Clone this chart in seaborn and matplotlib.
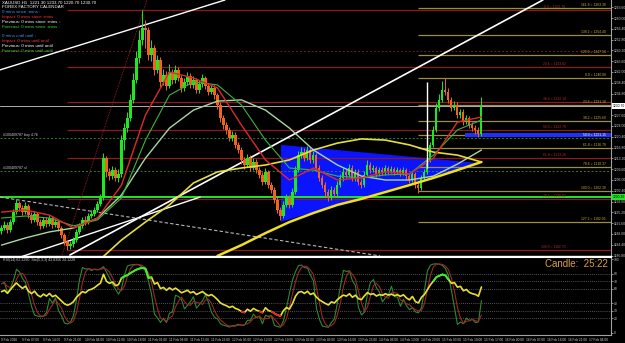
import numpy as np
import pandas as pd
import matplotlib
matplotlib.use("Agg")
import matplotlib.pyplot as plt
import seaborn as sns
from matplotlib.patches import Polygon, Rectangle

# ---------------- data ----------------
symbol = "XAUUSD,H1"
first_open = 1189.0
close = [1190.0,1191.0,1189.3,1192.0,1195.3,1198.3,1196.7,1195.3,1197.3,1194.3,
         1192.7,1194.7,1192.0,1190.7,1192.7,1191.3,1193.3,1191.0,1192.0,1190.0,
         1187.7,1185.3,1184.0,1184.7,1186.0,1188.7,1190.7,1192.7,1192.0,1194.0,
         1194.7,1196.0,1198.0,1200.0,1213.3,1208.7,1207.3,1209.3,1206.7,1208.0,
         1219.3,1223.3,1226.7,1232.7,1239.3,1246.7,1252.7,1256.7,1256.0,1247.7,
         1250.0,1242.7,1246.0,1238.7,1241.0,1237.3,1242.0,1239.3,1242.7,1240.0,
         1236.7,1238.7,1240.7,1237.7,1239.3,1236.0,1238.0,1240.0,1237.3,1235.3,
         1236.7,1234.3,1231.0,1226.7,1224.3,1222.7,1220.0,1221.0,1217.7,1216.0,
         1212.7,1211.0,1213.3,1210.0,1212.0,1209.3,1207.7,1205.3,1208.7,1204.3,
         1202.7,1199.3,1196.0,1194.0,1197.7,1200.0,1197.7,1202.0,1209.3,1214.3,
         1215.3,1213.3,1216.0,1212.7,1214.3,1210.0,1206.7,1204.3,1202.0,1200.0,
         1202.7,1201.3,1204.3,1206.7,1208.7,1207.7,1210.0,1206.7,1208.7,1205.3,
         1204.3,1207.7,1211.0,1209.3,1210.0,1208.0,1209.3,1208.7,1210.0,1209.0,
         1209.7,1208.7,1209.3,1208.3,1209.3,1207.3,1206.0,1208.0,1204.3,1203.3,
         1206.7,1208.7,1212.7,1217.7,1222.7,1230.0,1232.7,1236.0,1235.3,1232.7,
         1230.0,1231.0,1227.7,1228.7,1225.3,1226.7,1224.3,1223.3,1222.7,1221.3,
         1230.7]
high = [1191.0,1192.3,1192.0,1193.0,1196.3,1199.7,1199.0,1197.7,1198.7,1198.0,
        1195.3,1195.7,1195.3,1193.0,1193.7,1193.7,1194.3,1194.0,1193.0,1192.7,
        1190.7,1188.3,1186.0,1185.7,1187.0,1189.7,1191.7,1193.7,1194.0,1195.0,
        1196.0,1197.0,1199.0,1201.3,1215.0,1214.0,1210.0,1210.7,1210.3,1209.7,
        1221.0,1225.0,1228.7,1234.7,1241.7,1249.0,1256.0,1262.7,1259.3,1257.0,
        1252.7,1251.0,1247.7,1247.0,1243.0,1242.3,1244.7,1243.0,1244.3,1243.7,
        1241.0,1240.0,1242.0,1241.7,1240.7,1240.0,1239.3,1241.3,1240.7,1238.3,
        1238.0,1237.7,1235.0,1232.0,1227.7,1225.3,1223.7,1222.3,1222.0,1218.7,
        1217.0,1213.7,1214.7,1214.3,1213.3,1213.0,1210.3,1208.7,1210.0,1209.3,
        1205.3,1203.7,1200.3,1197.0,1199.0,1201.3,1201.0,1203.3,1210.7,1215.7,
        1217.0,1216.7,1217.3,1216.7,1215.7,1215.0,1211.0,1207.7,1205.3,1203.0,
        1204.0,1203.7,1205.7,1208.0,1210.0,1209.7,1211.3,1211.0,1209.7,1209.7,
        1206.3,1209.0,1212.7,1212.0,1211.0,1210.7,1210.3,1210.3,1211.0,1210.7,
        1210.7,1210.3,1210.3,1210.0,1210.3,1210.0,1208.0,1209.0,1208.7,1205.3,
        1207.7,1209.7,1213.7,1218.7,1224.0,1231.7,1234.7,1239.0,1240.0,1236.7,
        1233.7,1232.3,1232.0,1229.7,1229.7,1227.7,1227.3,1225.3,1224.3,1223.7,
        1233.7]
low = [1188.0,1189.3,1188.3,1188.7,1191.3,1194.7,1195.7,1194.3,1194.7,1193.3,
       1191.7,1192.0,1191.0,1189.7,1190.0,1190.3,1190.7,1190.0,1190.3,1189.0,
       1186.7,1184.3,1182.7,1183.0,1183.7,1185.3,1188.0,1190.0,1191.0,1191.3,
       1193.3,1194.0,1195.3,1197.3,1199.3,1207.0,1206.0,1206.3,1205.7,1205.3,
       1207.0,1216.0,1222.0,1225.7,1231.7,1238.3,1245.0,1251.0,1250.0,1246.0,
       1245.7,1241.0,1241.7,1237.0,1237.7,1236.0,1236.7,1238.0,1238.3,1239.0,
       1235.3,1235.7,1237.7,1236.7,1236.7,1235.0,1235.0,1237.0,1236.3,1234.3,
       1234.7,1233.0,1229.7,1225.3,1223.0,1221.3,1219.0,1219.0,1216.7,1215.0,
       1211.3,1209.7,1210.3,1209.0,1209.3,1208.3,1206.7,1204.3,1204.7,1203.3,
       1201.7,1198.3,1195.0,1192.7,1193.3,1197.0,1196.7,1197.0,1201.3,1208.7,
       1213.3,1212.3,1212.7,1211.7,1211.7,1209.0,1205.7,1203.3,1200.7,1199.0,
       1199.3,1200.3,1200.7,1203.7,1205.7,1206.7,1207.0,1205.7,1205.7,1204.3,
       1203.3,1203.7,1207.0,1208.3,1208.7,1207.0,1207.3,1207.7,1207.7,1208.0,
       1208.3,1207.7,1208.0,1207.3,1207.7,1206.3,1205.0,1205.3,1203.3,1201.7,
       1202.7,1206.0,1208.0,1212.0,1217.0,1222.0,1229.0,1232.0,1234.3,1231.7,
       1229.0,1229.3,1226.7,1226.7,1224.3,1224.7,1223.3,1222.3,1221.3,1220.3,
       1220.7]

ma_bars = [0, 8, 16, 24, 32, 40, 48, 56, 64, 72, 80, 88, 96, 104, 112, 120, 128, 136, 144, 152, 160]
ma_red = [1195.3, 1196.0, 1194.3, 1190.0, 1193.3, 1204.3, 1227.7, 1242.0, 1240.0, 1236.7, 1224.3,
          1212.7, 1206.0, 1210.0, 1206.0, 1206.7, 1208.7, 1208.0, 1213.3, 1225.3, 1227.0]
ma_green = [1193.3, 1194.0, 1193.3, 1190.7, 1192.7, 1200.0, 1219.3, 1234.3, 1238.7, 1237.7, 1231.0,
            1219.3, 1210.0, 1209.3, 1207.3, 1206.7, 1207.7, 1208.0, 1214.3, 1222.7, 1226.0]
ma_pale = [1184.3, 1186.7, 1188.7, 1190.0, 1193.3, 1201.0, 1213.3, 1223.3, 1229.3, 1232.3, 1232.7,
           1229.3, 1223.3, 1216.0, 1211.0, 1207.3, 1206.0, 1206.0, 1207.3, 1211.3, 1216.0]
ma_yellow_bars = [32, 40, 48, 56, 64, 72, 80, 88, 96, 104, 112, 120, 128, 136, 144, 152, 160]
ma_yellow = [1178.7, 1186.0, 1192.0, 1197.7, 1205.0, 1208.7, 1210.0, 1211.0, 1212.7, 1216.0, 1218.3,
             1219.7, 1219.3, 1217.7, 1215.3, 1214.3, 1212.0]
ma_yellow2_bars = [72, 80, 88, 96, 104, 112, 120, 128, 136, 144, 152, 160]
ma_yellow2 = [1180.7, 1184.3, 1188.3, 1192.0, 1195.0, 1197.7, 1199.7, 1202.0, 1204.3, 1206.7, 1209.3, 1212.0]

# drawn objects
trend_white1 = ([-0.5, 74.5], [1242.7, 1266.0])
trend_white2 = ([22.8, 180.5], [1181.0, 1266.0])
trend_white3 = ([6.2, 66.2], [1180.3, 1200.3])
trend_dash = ([-0.5, 126.2], [1200.3, 1180.7])
trend_red = ([20.2, 48.5], [1181.0, 1266.0])
triangle_bars = [93.2, 93.2, 158.8]
triangle_prices = [1217.7, 1192.0, 1211.7]
vline_bar, vline_prices = 142, (1210.0, 1238.7)
band_bar, band_prices = 154.5, (1220.3, 1221.7)

red_fib_start, red_fib_high, red_fib_low = 22, 1262.7, 1182.7
red_fib_ratios = [0.0, 23.6, 38.2, 50.0, 61.8, 78.6, 100.0]
yel_fib_start, yel_fib_high, yel_fib_low = 139, 1240.0, 1202.3
yel_fib_ratios = [-61.8, -38.2, -20.0, 0.0, 23.6, 38.2, 50.0, 61.8, 78.6, 100.0, 127.2]
yel_fib_labels = ["161.8", "138.2", "120.0", "0.0", "23.6", "38.2", "50.0", "61.8", "78.6", "100.0", "127.2"]

order_prices = [1220.0, 1209.0]
order_labels = ["#100409787 buy 4.76", "#100409787 sl"]
green_level = 1200.3
pivot_dotted = 1249.0
timer_text = "Candle:  25:22"
start_time = "2016-02-09 00:00"
rsi_period = 14
rsi_seed_gain, rsi_seed_loss = 1.0, 0.85   # averages carried in from bars before the window

# ---------------- derived ----------------
n = len(close)
idx = np.arange(n)
c = np.array(close); h = np.array(high); l = np.array(low)
o = np.r_[first_open, c[:-1]]
times = pd.date_range(start_time, periods=n + 60, freq="h")

delta = np.r_[c[0] - first_open, np.diff(c)]
ag, al = rsi_seed_gain, rsi_seed_loss
rsi = []
for dv in delta:
    ag = (ag * (rsi_period - 1) + max(dv, 0)) / rsi_period
    al = (al * (rsi_period - 1) + max(-dv, 0)) / rsi_period
    rsi.append(100 - 100 / (1 + ag / al))
rsi = np.array(rsi)
s = pd.Series(c)
ll = pd.Series(l).rolling(5, min_periods=1).min()
hh = pd.Series(h).rolling(5, min_periods=1).max()
k_main = (100 * (s - ll).rolling(3, min_periods=1).sum() / (hh - ll).rolling(3, min_periods=1).sum())
k_sig = k_main.rolling(3, min_periods=1).mean()

# ---------------- style ----------------
sns.set_style("dark", {"axes.facecolor": "black", "figure.facecolor": "black",
                       "axes.edgecolor": "#909090", "grid.color": "black"})
plt.rcParams["font.family"] = ["Liberation Sans", "DejaVu Sans"]

W, H = 625, 343
fig = plt.figure(figsize=(W / 100, H / 100), dpi=100, facecolor="black")
XL = (-0.5, 203.2)
ax = fig.add_axes([0, 87 / H, 611 / W, 256 / H])
rax = fig.add_axes([0, 8 / H, 611 / W, 78 / H])
ymin, ymax = 1266 - 256 / 3, 1266.0
ax.set_xlim(XL); ax.set_ylim(ymin, ymax)
rax.set_xlim(XL); rax.set_ylim(-3, 103)

for a in (ax, rax):
    a.set_facecolor("black")
    for sp in ("left", "top"):
        a.spines[sp].set_visible(False)
    a.spines["right"].set_color("#A0A0A0"); a.spines["right"].set_linewidth(0.8)
ax.spines["bottom"].set_color("white"); ax.spines["bottom"].set_linewidth(1.0)
rax.spines["top"].set_visible(True); rax.spines["top"].set_color("white")
rax.spines["bottom"].set_color("#A0A0A0")

# blue triangle
ax.add_patch(Polygon(list(zip(triangle_bars, triangle_prices)), closed=True,
                     facecolor="#0A14FF", edgecolor="none", zorder=1))

FS = 2.4
# fib lines
rng = red_fib_high - red_fib_low
for r in red_fib_ratios:
    p = red_fib_high - r / 100 * rng
    ax.hlines(p, red_fib_start, XL[1], color="#8E1B1B", lw=0.9, zorder=1.5)
    ax.text(188, p + 0.3, f"{r:.1f} = {p:.2f}", color="#B03020", fontsize=FS,
            ha="right", va="bottom", zorder=6)
yr = yel_fib_high - yel_fib_low
for r, lab in zip(yel_fib_ratios, yel_fib_labels):
    p = yel_fib_high - r / 100 * yr
    ax.hlines(p, yel_fib_start, XL[1], color="#9C8E3A", lw=0.9, zorder=1.5)
    if lab != "50.0":
        ax.text(201.5, p + 0.3, f"{lab} = {p:.2f}", color="#C8B040", fontsize=FS,
                ha="right", va="bottom", zorder=6)
ax.add_patch(Rectangle((band_bar, band_prices[0]), XL[1] - band_bar,
                       band_prices[1] - band_prices[0], facecolor="#1E2EFF",
                       edgecolor="none", zorder=2))
ax.text(201.5, (band_prices[0] + band_prices[1]) / 2, f"50.0 = {(yel_fib_high - 0.5 * yr):.2f}",
        color="white", fontsize=FS, ha="right", va="center", zorder=6)

ax.axhline(pivot_dotted, color="#7A1A1A", lw=0.7, ls=(0, (2, 2)), zorder=1.5)
for p, lab in zip(order_prices, order_labels):
    ax.axhline(p, color="#2F7F2F", lw=0.7, ls=(0, (2, 2)), zorder=1.5)
    ax.text(0.5, p + 0.3, lab, color="#D0D0D0", fontsize=2.6, ha="left", va="bottom")
ax.axhline(green_level, color="#22E622", lw=1.4, zorder=2)
ax.axhline(c[-1], color="#B0B0B0", lw=0.7, zorder=2)

# trendlines
for (tx, ty), col, lw, ls in [(trend_white1, "white", 1.0, "-"), (trend_white2, "white", 1.2, "-"),
                               (trend_white3, "white", 1.0, "-"), (trend_dash, "#B8B8B8", 0.8, (0, (3, 2))),
                               (trend_red, "#B02020", 0.6, (0, (1, 1)))]:
    ax.plot(tx, ty, color=col, lw=lw, ls=ls, zorder=3)

# candles
bull = c >= o
cols = np.where(bull, "#1EE81E", "#F2641E")
ax.vlines(idx, l, h, colors=cols, lw=0.7, zorder=4)
body_lo = np.minimum(o, c)
body_h = np.maximum(np.abs(c - o), 0.3)
ax.bar(idx, body_h, bottom=body_lo, width=0.7, color=cols, linewidth=0, zorder=4)

# moving averages
sns.lineplot(x=ma_bars, y=ma_pale, ax=ax, color="#A8D8A0", lw=1.0, zorder=5)
sns.lineplot(x=ma_yellow_bars, y=ma_yellow, ax=ax, color="#E6DC3C", lw=1.2, zorder=5)
sns.lineplot(x=ma_yellow2_bars, y=ma_yellow2, ax=ax, color="#F0E020", lw=1.8, zorder=5)
sns.lineplot(x=ma_bars, y=ma_green, ax=ax, color="#3CB43C", lw=0.8, zorder=5)
sns.lineplot(x=ma_bars, y=ma_red, ax=ax, color="#E02828", lw=1.0, zorder=5)

ax.vlines(vline_bar, *vline_prices, color="white", lw=1.0, zorder=6)

# right price axis
ax.yaxis.tick_right()
yt = np.arange(1263.6, ymin, -3.6)
ax.set_yticks(yt)
ax.set_yticklabels([f"{v:.2f}" for v in yt])
ax.tick_params(axis="y", colors="#C8C8C8", labelsize=FS, length=1.5, width=0.5, pad=0.5)
ax.set_xticks([]); ax.set_xlabel(""); ax.set_ylabel("")
for val, fc in [(c[-1], "white"), (green_level, "#22E622")]:
    ax.text(1.003, (val - ymin) / (ymax - ymin), f"{val:.2f}", transform=ax.transAxes,
            fontsize=FS, color="black", va="center", ha="left",
            bbox=dict(boxstyle="square,pad=0.2", fc=fc, ec="none"), zorder=10, clip_on=False)

# RSI panel
for lv in [80, 70, 60, 40, 30, 20]:
    rax.axhline(lv, color="#707070", lw=0.6, ls=(0, (1, 1.5)))
sns.lineplot(x=idx, y=k_main.values, ax=rax, color="#2F8A2F", lw=0.8)
sns.lineplot(x=idx, y=k_sig.values, ax=rax, color="#A02626", lw=0.8)
sns.lineplot(x=idx, y=rsi, ax=rax, color="#E8E030", lw=1.2)
rax.plot(idx, np.where(rsi > 70, rsi, np.nan), color="#30F030", lw=1.3)
rax.plot(idx, np.where(rsi < 30, rsi, np.nan), color="#F02020", lw=1.3)
rax.yaxis.tick_right()
rax.set_yticks([0, 20, 30, 40, 60, 70, 80, 100])
rax.tick_params(axis="y", colors="#C8C8C8", labelsize=FS, length=1.5, width=0.5, pad=0.5)
xt = np.arange(0, 203, 7)
rax.set_xticks(xt)
rax.set_xticklabels([times[i].strftime("%-d %b %Y") if i == 0 else times[i].strftime("%-d %b %H:%M")
                     for i in xt], ha="left")
rax.tick_params(axis="x", colors="#D0D0D0", labelsize=2.3, length=1.5, width=0.5, pad=0.5)
rax.set_xlabel(""); rax.set_ylabel("")
rax.text(0.5, 101, f"RSI(14) {rsi[-1]:.4f}  Sto(5,3,3) {k_main.values[-1]:.4f} {k_sig.values[-1]:.4f}",
         color="#D0D0D0", fontsize=2.6, ha="left", va="top")
fig.text(545 / W, 1 - 264 / H, timer_text, color="#E0A040", fontsize=7, ha="left", va="center")

# info text (top-left)
info = [(f"{symbol}  {o[-1]:.2f} {h[-1]:.2f} {l[-1]:.2f} {c[-1]:.2f}", "white"),
        ("FOREX FACTORY CALENDAR", "white"),
        ("0 mins since :mins :", "#2F9CFF"),
        ("Impact: 0 mins since :mins", "#FF3030"),
        ("Previous: 0 mins since :mins :", "white"),
        ("Forecast: 0 mins since :mins :", "#30E030"),
        ("", "white"),
        ("0 mins until until :", "#2F9CFF"),
        ("Impact: 0 mins until until", "#FF3030"),
        ("Previous: 0 mins until until", "white"),
        ("Forecast: 0 mins until until", "#30E030")]
for k, (t, col) in enumerate(info):
    fig.text(2 / W, 1 - (2.5 + 4.8 * k) / H, t, color=col, fontsize=3.2, ha="left", va="center")

fig.savefig("out.png", dpi=100, facecolor="black")
